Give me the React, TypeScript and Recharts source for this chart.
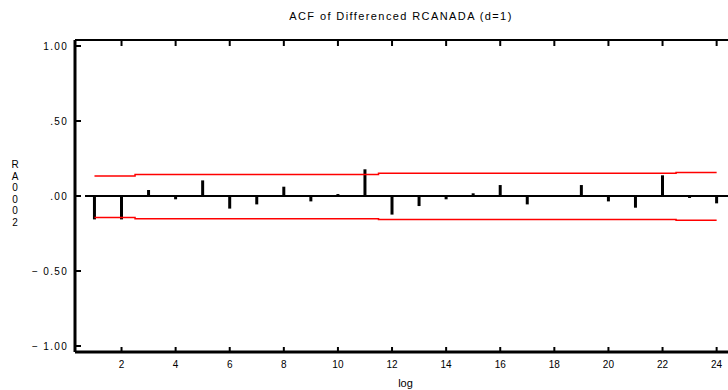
import { ComposedChart, Bar, Line, XAxis, YAxis, ReferenceLine } from "recharts";

const lags = [1, 2, 3, 4, 5, 6, 7, 8, 9, 10, 11, 12, 13, 14, 15, 16, 17, 18, 19, 20, 21, 22, 23, 24];
const acf = [
  -0.156, -0.156, 0.04, -0.022, 0.104, -0.084, -0.056, 0.062, -0.036, 0.013, 0.178, -0.124,
  -0.067, -0.022, 0.018, 0.073, -0.056, 0.002, 0.073, -0.036, -0.078, 0.138, -0.013, -0.049,
];
const upper = [
  0.133, 0.133, 0.144, 0.144, 0.144, 0.144, 0.144, 0.144, 0.144, 0.144, 0.144, 0.151,
  0.151, 0.151, 0.151, 0.151, 0.151, 0.151, 0.151, 0.151, 0.151, 0.151, 0.156, 0.156,
];
const lower = [
  -0.144, -0.144, -0.151, -0.151, -0.151, -0.151, -0.151, -0.151, -0.151, -0.151, -0.151, -0.156,
  -0.156, -0.156, -0.156, -0.156, -0.156, -0.156, -0.156, -0.156, -0.156, -0.156, -0.162, -0.162,
];
const xTicks = [2, 4, 6, 8, 10, 12, 14, 16, 18, 20, 22, 24];
const yTicks = [-1, -0.5, 0, 0.5, 1];
const yTickLabels: Record<string, string> = {
  "1": "1.00",
  "0.5": ".50",
  "0": ".00",
  "-0.5": "\u2212 0.50",
  "-1": "\u2212 1.00",
};
const yLabelChars = ["R", "A", "0", "0", "0", "2"];

const data = lags.map((lag, i) => ({ lag, acf: acf[i], upper: upper[i], lower: lower[i] }));

const font = "'Liberation Sans', Arial, sans-serif";
const xDomain: [number, number] = [0.28, 24.42];

// inward tick marks drawn by hand, recharts draws them outward
const BottomTick = (props: any) => {
  const { x, y, payload } = props;
  return (
    <g>
      <line x1={x} x2={x} y1={y} y2={y - 5} stroke="#000" strokeWidth={2} />
      <text x={x} y={y + 16} textAnchor="middle" fontSize={10} fill="#000" fontFamily={font}>
        {payload.value}
      </text>
    </g>
  );
};

const TopTick = (props: any) => {
  const { x, y } = props;
  return <line x1={x} x2={x} y1={y} y2={y + 6} stroke="#000" strokeWidth={2} />;
};

const LeftTick = (props: any) => {
  const { x, y, payload } = props;
  return (
    <g>
      <line x1={x} x2={x + 6} y1={y} y2={y} stroke="#000" strokeWidth={2} />
      <text x={x - 7} y={y + 4} textAnchor="end" fontSize={10} fill="#000" fontFamily={font} letterSpacing={1.3}>
        {yTickLabels[String(payload.value)] ?? String(payload.value)}
      </text>
    </g>
  );
};

export default function App() {
  return (
    <div style={{ position: "absolute", left: 0, top: 0, width: 728, height: 390, background: "#fff", fontFamily: font }}>
      <div
        style={{
          position: "absolute",
          left: 0,
          width: 802,
          top: 10,
          textAlign: "center",
          fontSize: 11,
          letterSpacing: 1.4,
          color: "#000",
        }}
      >
        ACF of Differenced RCANADA (d=1)
      </div>
      <div style={{ position: "absolute", left: 9, top: 159, width: 12, textAlign: "center", fontSize: 10, lineHeight: "11.5px", color: "#000" }}>
        {yLabelChars.map((c, i) => (
          <div key={i}>{c}</div>
        ))}
      </div>
      <ComposedChart width={728} height={390} data={data} margin={{ top: 39, right: 0, bottom: 0, left: 0 }}>
        <XAxis
          xAxisId="top"
          orientation="top"
          type="number"
          dataKey="lag"
          domain={xDomain}
          allowDataOverflow
          ticks={xTicks}
          height={1}
          tickSize={0}
          tickMargin={0}
          tick={<TopTick />}
          tickLine={false}
          axisLine={{ stroke: "#000", strokeWidth: 2 }}
        />
        <XAxis
          type="number"
          dataKey="lag"
          domain={xDomain}
          allowDataOverflow
          ticks={xTicks}
          height={38}
          tickSize={0}
          tickMargin={0}
          tick={<BottomTick />}
          tickLine={false}
          axisLine={{ stroke: "#000", strokeWidth: 3 }}
          label={{ value: "log", position: "insideBottom", offset: 3, dx: 4, fontSize: 11, fill: "#000", fontFamily: font }}
        />
        <YAxis
          type="number"
          domain={[-1.04, 1.04]}
          allowDataOverflow
          ticks={yTicks}
          width={75}
          tickSize={0}
          tickMargin={0}
          tick={<LeftTick />}
          tickLine={false}
          axisLine={{ stroke: "#000", strokeWidth: 3 }}
        />
        <ReferenceLine
          segment={[
            { x: 0.65, y: 0 },
            { x: 24.42, y: 0 },
          ]}
          stroke="#000"
          strokeWidth={2}
        />
        <Bar dataKey="acf" barSize={3} fill="#000" isAnimationActive={false} />
        <Line dataKey="upper" type="step" stroke="#ff0000" strokeWidth={1.5} dot={false} isAnimationActive={false} />
        <Line dataKey="lower" type="step" stroke="#ff0000" strokeWidth={1.5} dot={false} isAnimationActive={false} />
      </ComposedChart>
    </div>
  );
}
